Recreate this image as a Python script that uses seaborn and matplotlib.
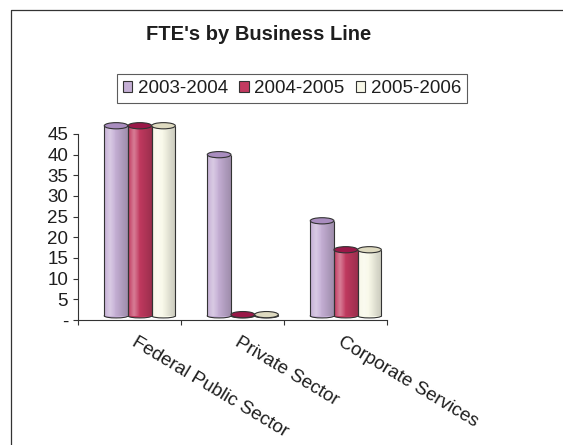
import numpy as np
import pandas as pd
import matplotlib
matplotlib.use("Agg")
import matplotlib.pyplot as plt
import seaborn as sns
from matplotlib.patches import Ellipse, Patch
from matplotlib.lines import Line2D

# ---- data ----
categories = ["Federal Public Sector", "Private Sector", "Corporate Services"]
years = ["2003-2004", "2004-2005", "2005-2006"]
fte_2003_2004 = [46, 39, 23]
fte_2004_2005 = [46, 0.3, 16]
fte_2005_2006 = [46, 0.3, 16]
y_ticks = [0, 5, 10, 15, 20, 25, 30, 35, 40, 45]
y_tick_labels = ["-", "5", "10", "15", "20", "25", "30", "35", "40", "45"]
title = "FTE's by Business Line"

# ---- styles ----
colors = ["#C5AFD5", "#C23A60", "#F8F8E8"]
top_colors = ["#A98DBF", "#9A1848", "#DEDAC0"]
edge = "#333333"
txt = "#1e1e1e"

sns.set_style("white")
plt.rcParams["font.family"] = ["Liberation Sans", "DejaVu Sans"]

rows = []
for yr, vals in zip(years, [fte_2003_2004, fte_2004_2005, fte_2005_2006]):
    for c, v in zip(categories, vals):
        rows.append({"line": c, "year": yr, "fte": v})
df = pd.DataFrame(rows)

W, H = 563, 445
ppu = 186 / 45.0
ytop = 50
fig = plt.figure(figsize=(W / 100, H / 100), dpi=100)
ax = fig.add_axes([78 / W, 1 - 320 / H, (387 - 78) / W, ytop * ppu / H])

sns.barplot(data=df, x="line", y="fte", hue="year", order=categories,
            hue_order=years, palette=colors, width=0.69, dodge=True,
            legend=False, ax=ax, linewidth=0, saturation=1, zorder=3)

floor = 1.0
xl = (-0.6, 2.4)
yl = (0, ytop)

grad = np.zeros((1, 64, 4))
t = np.linspace(0, 1, 64)
white_a = np.clip(0.35 * (1 - np.abs(t - 0.25) / 0.25), 0, None)
black_a = np.clip((t - 0.45) / 0.55, 0, 1) * 0.2
grad[0, :, :3] = np.where((white_a > black_a)[:, None], 1.0, 0.0)
grad[0, :, 3] = np.maximum(white_a, black_a)

for hi, cont in enumerate(ax.containers):
    for p in cont.patches:
        h = p.get_height()
        p.set_y(floor)
        x0 = p.get_x()
        w = p.get_width()
        cx = x0 + w / 2
        top = floor + h
        ax.add_patch(Ellipse((cx, floor), w, 1.0, facecolor=colors[hi],
                             edgecolor=edge, lw=0.8, zorder=2))
        im = ax.imshow(grad, extent=(x0, x0 + w, floor, top), aspect="auto",
                       zorder=3.5, interpolation="bicubic")
        im.set_clip_path(p)
        ax.vlines([x0, x0 + w], floor, top, colors=edge, lw=0.8, zorder=4)
        ax.add_patch(Ellipse((cx, top), w, 1.5, facecolor=top_colors[hi],
                             edgecolor=edge, lw=0.8, zorder=5))

ax.set_xlim(*xl)
ax.set_ylim(*yl)

for s in ["top", "right"]:
    ax.spines[s].set_visible(False)
for s in ["left", "bottom"]:
    ax.spines[s].set_color(edge)
    ax.spines[s].set_linewidth(0.8)
ax.spines["left"].set_bounds(0, 45)

ax.set_yticks(y_ticks)
ax.set_yticklabels(y_tick_labels)
ax.tick_params(axis="y", direction="out", length=3.6, width=0.8, color=edge,
               pad=3.5, labelsize=13.5, labelcolor=txt, left=True)

ax.set_xticks(np.arange(len(categories)) - 0.02)
ax.set_xticklabels(categories)
ax.set_xticks(np.arange(len(categories) + 1) - 0.6, minor=True)
ax.tick_params(axis="x", which="major", length=0, pad=10, labelsize=13.5,
               labelcolor=txt)
ax.tick_params(axis="x", which="minor", direction="out", length=3.6,
               width=0.8, color=edge, bottom=True)
plt.setp(ax.get_xticklabels(), rotation=-31, ha="left", va="top",
         rotation_mode="anchor")
ax.set_xlabel("")
ax.set_ylabel("")
ax.grid(False)

handles = [Patch(facecolor=c, edgecolor=edge, lw=0.8) for c in colors]
leg = fig.legend(handles, years, ncol=3, loc="center",
                 bbox_to_anchor=(292 / W, 1 - 88.5 / H), frameon=True,
                 fancybox=False, edgecolor=edge, fontsize=13.5,
                 handlelength=0.5, handleheight=0.5, handletextpad=0.3,
                 columnspacing=0.6, borderpad=0.3, borderaxespad=0)
leg.get_frame().set_linewidth(0.8)
for tx in leg.get_texts():
    tx.set_color(txt)

fig.text(259 / W, 1 - 35 / H, title, ha="center", va="center",
         fontsize=14.5, fontweight="bold", color=txt)

fig.add_artist(Line2D([11 / W, 11 / W, 1.0], [0, 1 - 10 / H, 1 - 10 / H],
                      transform=fig.transFigure, color=edge, lw=0.9))

fig.savefig("out.png", dpi=100)
